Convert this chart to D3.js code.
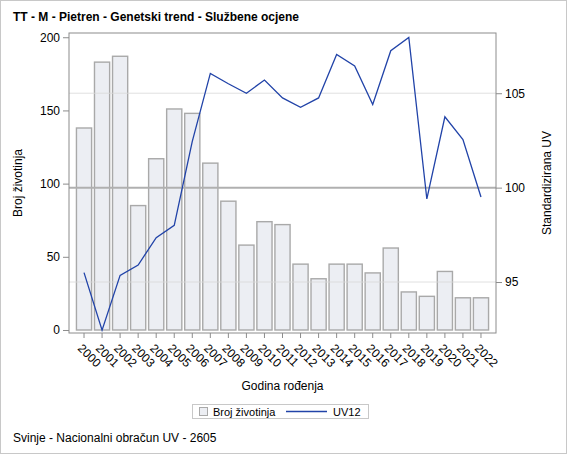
<!DOCTYPE html>
<html>
<head>
<meta charset="utf-8">
<script src="https://cdn.jsdelivr.net/npm/d3@7"></script>
<style>
  body { margin: 0; background: #fff; }
  text { font-family: "Liberation Sans", Arial, sans-serif; fill: #000; }
</style>
</head>
<body>
<div id="chart"></div>
<script>
// data
var years = ["2000","2001","2002","2003","2004","2005","2006","2007","2008","2009","2010","2011",
             "2012","2013","2014","2015","2016","2017","2018","2019","2020","2021","2022"];
var counts = [138,183,187,85,117,151,148,114,88,58,74,72,45,35,45,45,39,56,26,23,40,22,22];
var uv12 = [95.5,92.45,95.35,95.9,97.35,98.0,102.45,106.05,105.5,105.0,105.7,104.75,
            104.25,104.75,107.05,106.45,104.4,107.25,107.95,99.4,103.75,102.55,99.5];
var leftTicks = [0, 50, 100, 150, 200];
var rightTicks = [95, 100, 105];

var width = 567, height = 454;
var plot = {left: 69, right: 496, top: 33, bottom: 333};

var svg = d3.select("#chart").append("svg")
    .attr("width", width)
    .attr("height", height);

// outer border
svg.append("rect")
    .attr("x", 0.5).attr("y", 0.5)
    .attr("width", width - 1).attr("height", height - 1)
    .attr("fill", "none").attr("stroke", "#c8c8c8");

var x = d3.scaleBand()
    .domain(years)
    .range([plot.left + 6, plot.right - 6])
    .paddingInner(0.16)
    .paddingOuter(0.08);

var yL = d3.scaleLinear().domain([-2.05, 202.9]).range([plot.bottom, plot.top]);
var yR = d3.scaleLinear().domain([92.3, 108.19]).range([plot.bottom, plot.top]);

// bars
svg.append("g").selectAll("rect")
    .data(counts)
    .enter().append("rect")
    .attr("x", function (d, i) { return x(years[i]); })
    .attr("y", function (d) { return yL(d); })
    .attr("width", x.bandwidth())
    .attr("height", function (d) { return yL(0) - yL(d); })
    .attr("fill", "#eceef3")
    .attr("stroke", "#a9a9a9")
    .attr("stroke-width", 1.4);

// right axis grid lines (drawn on top of bars)
svg.append("g").selectAll("line")
    .data(rightTicks.filter(function (d) { return d !== 100; }))
    .enter().append("line")
    .attr("x1", plot.left).attr("x2", plot.right)
    .attr("y1", function (d) { return yR(d); })
    .attr("y2", function (d) { return yR(d); })
    .attr("stroke", "#d8d8d8")
    .attr("stroke-opacity", 0.8);

// reference line at 100
svg.append("line")
    .attr("x1", plot.left).attr("x2", plot.right)
    .attr("y1", yR(100)).attr("y2", yR(100))
    .attr("stroke", "#b0b0b0")
    .attr("stroke-width", 2);

// UV12 line
var line = d3.line()
    .x(function (d, i) { return x(years[i]) + x.bandwidth() / 2; })
    .y(function (d) { return yR(d); });

svg.append("path")
    .datum(uv12)
    .attr("d", line)
    .attr("fill", "none")
    .attr("stroke", "#2143a8")
    .attr("stroke-width", 1.3);

// frame
svg.append("rect")
    .attr("x", plot.left).attr("y", plot.top)
    .attr("width", plot.right - plot.left)
    .attr("height", plot.bottom - plot.top)
    .attr("fill", "none")
    .attr("stroke", "#8c8c8c");

// axes
var leftAxis = svg.append("g")
    .attr("transform", "translate(" + plot.left + ",0)")
    .call(d3.axisLeft(yL).tickValues(leftTicks).tickSize(6).tickPadding(3));

var rightAxis = svg.append("g")
    .attr("transform", "translate(" + plot.right + ",0)")
    .call(d3.axisRight(yR).tickValues(rightTicks).tickSize(6).tickPadding(3));

var bottomAxis = svg.append("g")
    .attr("transform", "translate(0," + plot.bottom + ")")
    .call(d3.axisBottom(x).tickSize(5));

[leftAxis, rightAxis, bottomAxis].forEach(function (a) {
    a.select(".domain").remove();
    a.selectAll(".tick line").attr("stroke", "#8c8c8c");
    a.selectAll("text").style("font-size", "12px").attr("fill", "#000");
});

bottomAxis.selectAll(".tick text")
    .attr("text-anchor", "start")
    .attr("x", 0).attr("y", 0)
    .attr("dy", "0.35em")
    .attr("transform", "translate(-4,13) rotate(45)");

// titles
svg.append("text")
    .attr("x", 13).attr("y", 21)
    .style("font-size", "12px")
    .style("font-weight", "bold")
    .text("TT - M - Pietren - Genetski trend - Službene ocjene");

svg.append("text")
    .attr("transform", "translate(22," + ((plot.top + plot.bottom) / 2) + ") rotate(-90)")
    .attr("text-anchor", "middle")
    .style("font-size", "12px")
    .text("Broj životinja");

svg.append("text")
    .attr("transform", "translate(551," + ((plot.top + plot.bottom) / 2) + ") rotate(-90)")
    .attr("text-anchor", "middle")
    .style("font-size", "12px")
    .text("Standardizirana UV");

svg.append("text")
    .attr("x", (plot.left + plot.right) / 2).attr("y", 390)
    .attr("text-anchor", "middle")
    .style("font-size", "12px")
    .text("Godina rođenja");

// legend
var legend = svg.append("g");
legend.append("rect")
    .attr("x", 192.5).attr("y", 404.5)
    .attr("width", 176).attr("height", 14)
    .attr("fill", "#fff").attr("stroke", "#c8c8c8");
legend.append("rect")
    .attr("x", 199.5).attr("y", 407.5)
    .attr("width", 8).attr("height", 8)
    .attr("fill", "#eceef3").attr("stroke", "#a9a9a9");
legend.append("text")
    .attr("x", 213).attr("y", 415.5)
    .style("font-size", "11px")
    .text("Broj životinja");
legend.append("line")
    .attr("x1", 286).attr("x2", 327)
    .attr("y1", 411.5).attr("y2", 411.5)
    .attr("stroke", "#2143a8").attr("stroke-width", 1.3);
legend.append("text")
    .attr("x", 333).attr("y", 415.5)
    .style("font-size", "11px")
    .text("UV12");

svg.append("text")
    .attr("x", 13).attr("y", 442)
    .style("font-size", "12px")
    .text("Svinje - Nacionalni obračun UV - 2605");
</script>
</body>
</html>
